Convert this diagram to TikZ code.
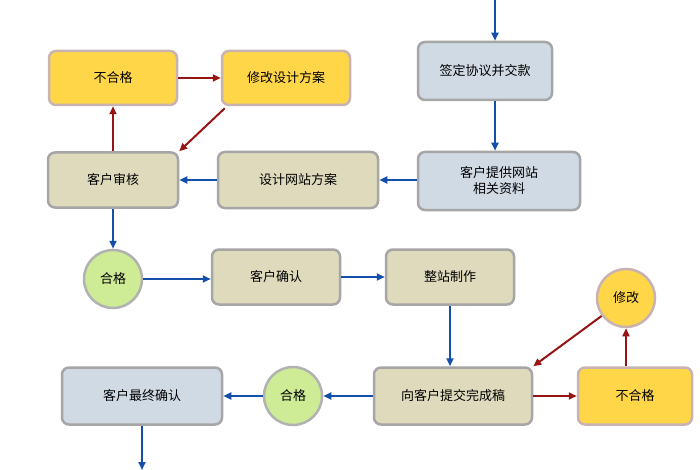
\documentclass[tikz,border=0pt]{standalone}
\usepackage{fontspec}
\newfontfamily\cjk{Noto Sans CJK SC}
\usetikzlibrary{arrows.meta}
\definecolor{beige}{RGB}{222,218,188}
\definecolor{ylw}{RGB}{255,214,72}
\definecolor{bgr}{RGB}{208,218,228}
\definecolor{grn}{RGB}{206,236,150}
\definecolor{bl}{RGB}{20,80,170}
\definecolor{rd}{RGB}{150,20,20}
\tikzset{
 box/.style={rounded corners=7pt,line width=2.5pt,draw=black!35,font=\cjk\fontsize{13}{16}\selectfont,align=center,inner sep=0pt},
 bbox/.style={box,fill=beige},
 ybox/.style={box,fill=ylw,draw=red!30!black!30},
 gbox/.style={box,fill=bgr},
 circ/.style={circle,line width=2.5pt,draw=black!30,minimum size=58pt,inner sep=0pt,font=\cjk\fontsize{13}{16}\selectfont},
 ba/.style={-{Triangle[length=8pt,width=7pt]},line width=2pt,bl},
 ra/.style={-{Triangle[length=8pt,width=7pt]},line width=2pt,rd},
}
\begin{document}
\begin{tikzpicture}[x=1pt,y=-1pt]
\useasboundingbox (0,0) rectangle (700,470);
\node[ybox,minimum width=128pt,minimum height=54pt] (bh1) at (113,78) {不合格};
\node[ybox,minimum width=128pt,minimum height=54pt] (xg) at (286,78) {修改设计方案};
\node[gbox,minimum width=134pt,minimum height=58pt] (qd) at (485,71) {签定协议并交款};
\node[bbox,minimum width=130pt,minimum height=55pt] (sh) at (113,180) {客户审核};
\node[bbox,minimum width=160pt,minimum height=56pt] (sj) at (298,180) {设计网站方案};
\node[gbox,minimum width=162pt,minimum height=58pt] (tg) at (499,181) {客户提供网站\\相关资料};
\node[circ,fill=grn] (hg1) at (113,279) {合格};
\node[bbox,minimum width=128pt,minimum height=55pt] (qr) at (276,277) {客户确认};
\node[bbox,minimum width=128pt,minimum height=55pt] (zz) at (450,277) {整站制作};
\node[circ,fill=ylw,draw=red!30!black!30] (xg2) at (626,298) {修改};
\node[gbox,minimum width=160pt,minimum height=57pt] (zq) at (142,396) {客户最终确认};
\node[circ,fill=grn] (hg2) at (293,396) {合格};
\node[bbox,minimum width=158pt,minimum height=57pt] (tj) at (453,396) {向客户提交完成稿};
\node[ybox,minimum width=114pt,minimum height=57pt] (bh2) at (635,396) {不合格};
\coordinate (top) at (495,0);
\coordinate (bot) at (142,470);
\draw[ba] (top) -- (qd.north -| top);
\draw[ba] (qd.south -| top) -- (tg.north -| top);
\draw[ba] (tg.west |- sj) -- (sj);
\draw[ba] (sj) -- (sh);
\draw[ba] (sh) -- (hg1);
\draw[ba] (hg1) -- (qr.west |- hg1);
\draw[ba] (qr) -- (zz);
\draw[ba] (zz) -- (tj.north -| zz);
\draw[ba] (tj) -- (hg2);
\draw[ba] (hg2) -- (zq);
\draw[ba] (zq) -- (bot);
\draw[ra] (sh) -- (bh1);
\draw[ra] (bh1) -- (xg);
\draw[ra] (xg.south west) ++(4,2) -- (sh.north east);
\draw[ra] (tj) -- (bh2);
\draw[ra] (bh2.north -| xg2) -- (xg2);
\draw[ra] (xg2) -- (tj.north east);
\end{tikzpicture}
\end{document}
